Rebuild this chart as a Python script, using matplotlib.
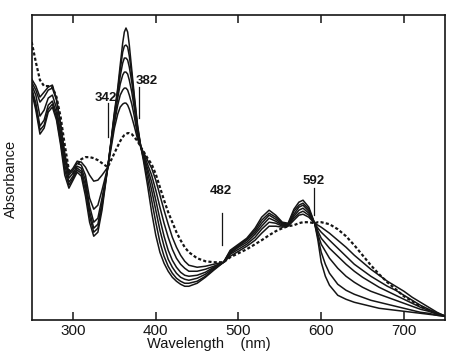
import numpy as np
import matplotlib
matplotlib.use('Agg')
import matplotlib.pyplot as plt

# wavelength grid (nm), shared by every trace
wavelength = [250, 255, 260, 265, 270, 275, 280, 285, 290, 295, 300, 305, 310, 315, 320, 325, 330, 335,
              342, 346, 350, 354, 357, 360, 362, 364, 366, 368, 371, 374, 378, 382,
              385, 390, 395, 400, 405, 410, 415, 420, 425, 430, 435, 440, 450, 460, 470, 482,
              490, 500, 510, 520, 528, 537, 545, 553, 560, 567, 573, 578, 585, 592,
              596, 600, 605, 610, 620, 630, 640, 650, 660, 670, 680, 690, 700, 710, 720, 730, 740, 750]

# absorbance, arbitrary units (s1 = strongest Soret band)
s1 = [228, 210, 186, 192, 208, 213, 200, 175, 145, 132, 140, 148, 144, 124, 98, 84, 88, 110,
      153, 180, 208, 232, 255, 277, 288, 292, 288, 275, 250, 225, 195, 173,
      160, 135, 108, 85, 68, 57, 49, 43, 39, 36, 34, 34, 37, 43, 50, 58,
      70, 76, 82, 92, 103, 110, 105, 98, 97, 111, 118, 120, 113, 97,
      80, 58, 44, 35, 25, 21, 18, 16, 14, 12, 11, 10, 9, 8, 7, 6, 5, 4]
s2 = [230, 213, 190, 195, 211, 216, 203, 178, 150, 135, 142, 150, 147, 130, 104, 88, 92, 114,
      153, 179, 206, 229, 250, 268, 274, 275, 273, 264, 245, 222, 193, 173,
      162, 142, 120, 98, 78, 64, 54, 47, 42, 39, 37, 37, 39, 44, 51, 58,
      69, 75, 81, 90, 100, 107, 103, 97, 96, 109, 115, 117, 111, 97,
      83, 68, 56, 47, 36, 30, 26, 23, 20, 18, 16, 14, 12, 10, 8, 7, 5, 4]
s3 = [232, 217, 194, 200, 215, 219, 207, 182, 155, 138, 144, 152, 149, 135, 109, 92, 96, 117,
      153, 178, 204, 226, 244, 257, 262, 262, 260, 253, 238, 218, 191, 173,
      164, 148, 130, 110, 90, 74, 61, 53, 47, 43, 41, 40, 42, 46, 52, 58,
      68, 74, 80, 88, 97, 105, 101, 96, 96, 106, 113, 115, 109, 97,
      86, 76, 69, 62, 52, 44, 38, 33, 29, 26, 23, 20, 17, 14, 11, 9, 6, 4]
s4 = [235, 225, 204, 210, 222, 225, 212, 187, 160, 142, 147, 154, 152, 140, 114, 98, 102, 122,
      153, 177, 201, 222, 236, 245, 248, 248, 246, 240, 228, 212, 188, 173,
      165, 152, 138, 120, 101, 84, 70, 60, 53, 48, 45, 44, 45, 48, 53, 58,
      67, 73, 78, 86, 94, 102, 99, 95, 95, 104, 110, 112, 107, 97,
      89, 82, 77, 72, 64, 56, 49, 43, 38, 33, 29, 25, 21, 17, 13, 10, 7, 4]
s5 = [238, 230, 218, 223, 230, 232, 220, 195, 165, 145, 150, 157, 155, 145, 122, 111, 115, 130,
      153, 175, 197, 215, 225, 230, 232, 232, 230, 225, 216, 204, 184, 173,
      167, 156, 145, 130, 113, 97, 83, 71, 62, 56, 52, 49, 49, 51, 54, 58,
      66, 71, 76, 83, 91, 98, 97, 94, 95, 102, 107, 109, 105, 97,
      92, 88, 84, 80, 72, 64, 56, 50, 44, 39, 34, 30, 25, 20, 15, 11, 7, 4]
s6 = [241, 234, 223, 228, 233, 235, 221, 196, 166, 147, 152, 159, 158, 153, 145, 139, 140, 145,
      153, 172, 192, 206, 213, 216, 217, 217, 215, 211, 203, 194, 181, 173,
      168, 160, 152, 140, 125, 110, 96, 83, 73, 65, 59, 55, 53, 54, 56, 58,
      64, 69, 74, 80, 87, 94, 94, 93, 94, 100, 105, 106, 103, 97,
      95, 93, 90, 87, 80, 73, 65, 58, 51, 45, 39, 34, 29, 23, 18, 13, 8, 4]
# final spectrum (dashed)
final = [278, 258, 240, 234, 234, 233, 223, 203, 175, 150, 147, 155, 161, 163, 163, 162, 160, 157,
         153, 160, 167, 174, 179, 183, 185, 186, 187, 187, 186, 183, 179, 173,
         169, 162, 156, 146, 133, 120, 108, 98, 88, 80, 73, 68, 62, 59, 58, 58,
         63, 67, 71, 76, 80, 85, 89, 92, 94, 95, 97, 98, 98, 97,
         98, 98, 97, 96, 91, 84, 75, 65, 55, 46, 38, 31, 24, 19, 14, 10, 7, 4]

xticks = [300, 400, 500, 600, 700]
# isosbestic marks: label, line x, line bottom, line top, label x, label y
iso_labels = ["342", "382", "482", "592"]
iso_x = [342, 380, 480, 591]
iso_y0 = [183, 202, 75, 105]
iso_y1 = [217, 233, 107, 132]
iso_tx = [340, 389, 479, 591]
iso_ty = [222, 239, 129, 139]

ink = '#151515'
plt.rcParams['font.family'] = ['Liberation Sans', 'DejaVu Sans']

fig = plt.figure(figsize=(4.64, 3.54), dpi=100)
ax = fig.add_axes([0.0683, 0.0952, 0.8914, 0.8624])

for trace in [s1, s2, s3, s4, s5, s6]:
    ax.plot(wavelength, trace, color=ink, lw=1.1, solid_joinstyle='round')
ax.plot(wavelength, final, color=ink, lw=1.6, linestyle=(0, (1.4, 1.0)))

for i, label in enumerate(iso_labels):
    ax.plot([iso_x[i], iso_x[i]], [iso_y0[i], iso_y1[i]], color=ink, lw=0.9)
    ax.text(iso_tx[i], iso_ty[i], label, ha='center', va='center', fontsize=9.5,
            fontweight='bold', color=ink)

ax.set_xlim(250, 750)
ax.set_ylim(0, 305)
ax.set_xticks(xticks)
ax.set_yticks([])
ax.tick_params(axis='x', direction='in', length=6, width=1.1, top=True,
               labeltop=False, pad=3, labelsize=11, colors=ink)
for sp in ax.spines.values():
    sp.set_linewidth(1.2)
    sp.set_color(ink)

ax.set_xlabel('Wavelength    (nm)', fontsize=10.5, color=ink)
ax.xaxis.set_label_coords(0.4275, -0.055)
ax.set_ylabel('Absorbance', fontsize=10.5, color=ink)
ax.yaxis.set_label_coords(-0.032, 0.464)

fig.savefig('out.png', dpi=100)
